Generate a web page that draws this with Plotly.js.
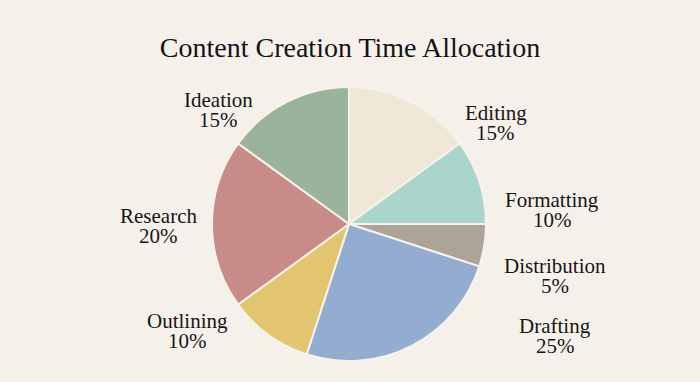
<!DOCTYPE html>
<html>
<head>
<meta charset="utf-8">
<script src="https://cdn.plot.ly/plotly-3.0.1.min.js"></script>
<style>
  html, body { margin: 0; padding: 0; background: #F5F1EA; }
  #chart { width: 700px; height: 382px; }
</style>
</head>
<body>
<div id="chart"></div>
<script>
// Data (clockwise from 12 o'clock)
const categories = ["Editing", "Formatting", "Distribution", "Drafting", "Outlining", "Research", "Ideation"];
const shares = [15, 10, 5, 25, 10, 20, 15];
const sliceColors = ["#EFE7D8", "#A9D5CB", "#AEA398", "#93ADD0", "#E3C46F", "#C98B88", "#9AB49B"];
// label block centres (pixels in the 700x382 frame)
const labelX = [496, 552, 555, 555, 187, 158, 218];
const labelY = [123, 210, 276, 336, 331, 226, 110];

const W = 700, H = 382;
const cx = 349, cy = 224, r = 137;

const serif = "Liberation Serif, Times New Roman, serif";
const lineGap = 20.5;

const trace = {
  type: "pie",
  labels: categories,
  values: shares,
  sort: false,
  direction: "clockwise",
  rotation: 0,
  textinfo: "none",
  hoverinfo: "label+percent",
  marker: { colors: sliceColors, line: { color: "#F7F3EC", width: 2 } },
  domain: { x: [(cx - r) / W, (cx + r) / W], y: [(H - cy - r) / H, (H - cy + r) / H] },
  showlegend: false
};

const annotations = [];
categories.forEach((c, i) => {
  const lines = [c, shares[i] + "%"];
  lines.forEach((t, k) => {
    annotations.push({
      text: t,
      x: labelX[i] / W,
      y: 1 - (labelY[i] + (k - 0.5) * lineGap) / H,
      xref: "paper", yref: "paper",
      xanchor: "center", yanchor: "middle",
      showarrow: false, align: "center",
      font: { family: serif, size: 21, color: "#161616" }
    });
  });
});

const layout = {
  width: W, height: H,
  margin: { l: 0, r: 0, t: 0, b: 0 },
  paper_bgcolor: "#F5F1EA",
  plot_bgcolor: "#F5F1EA",
  title: {
    text: "Content Creation Time Allocation",
    x: 0.5, xanchor: "center",
    y: 1 - 47 / H, yanchor: "middle",
    font: { family: serif, size: 28, color: "#141414" }
  },
  annotations: annotations
};

Plotly.newPlot("chart", [trace], layout, { displayModeBar: false, staticPlot: true });
</script>
</body>
</html>
